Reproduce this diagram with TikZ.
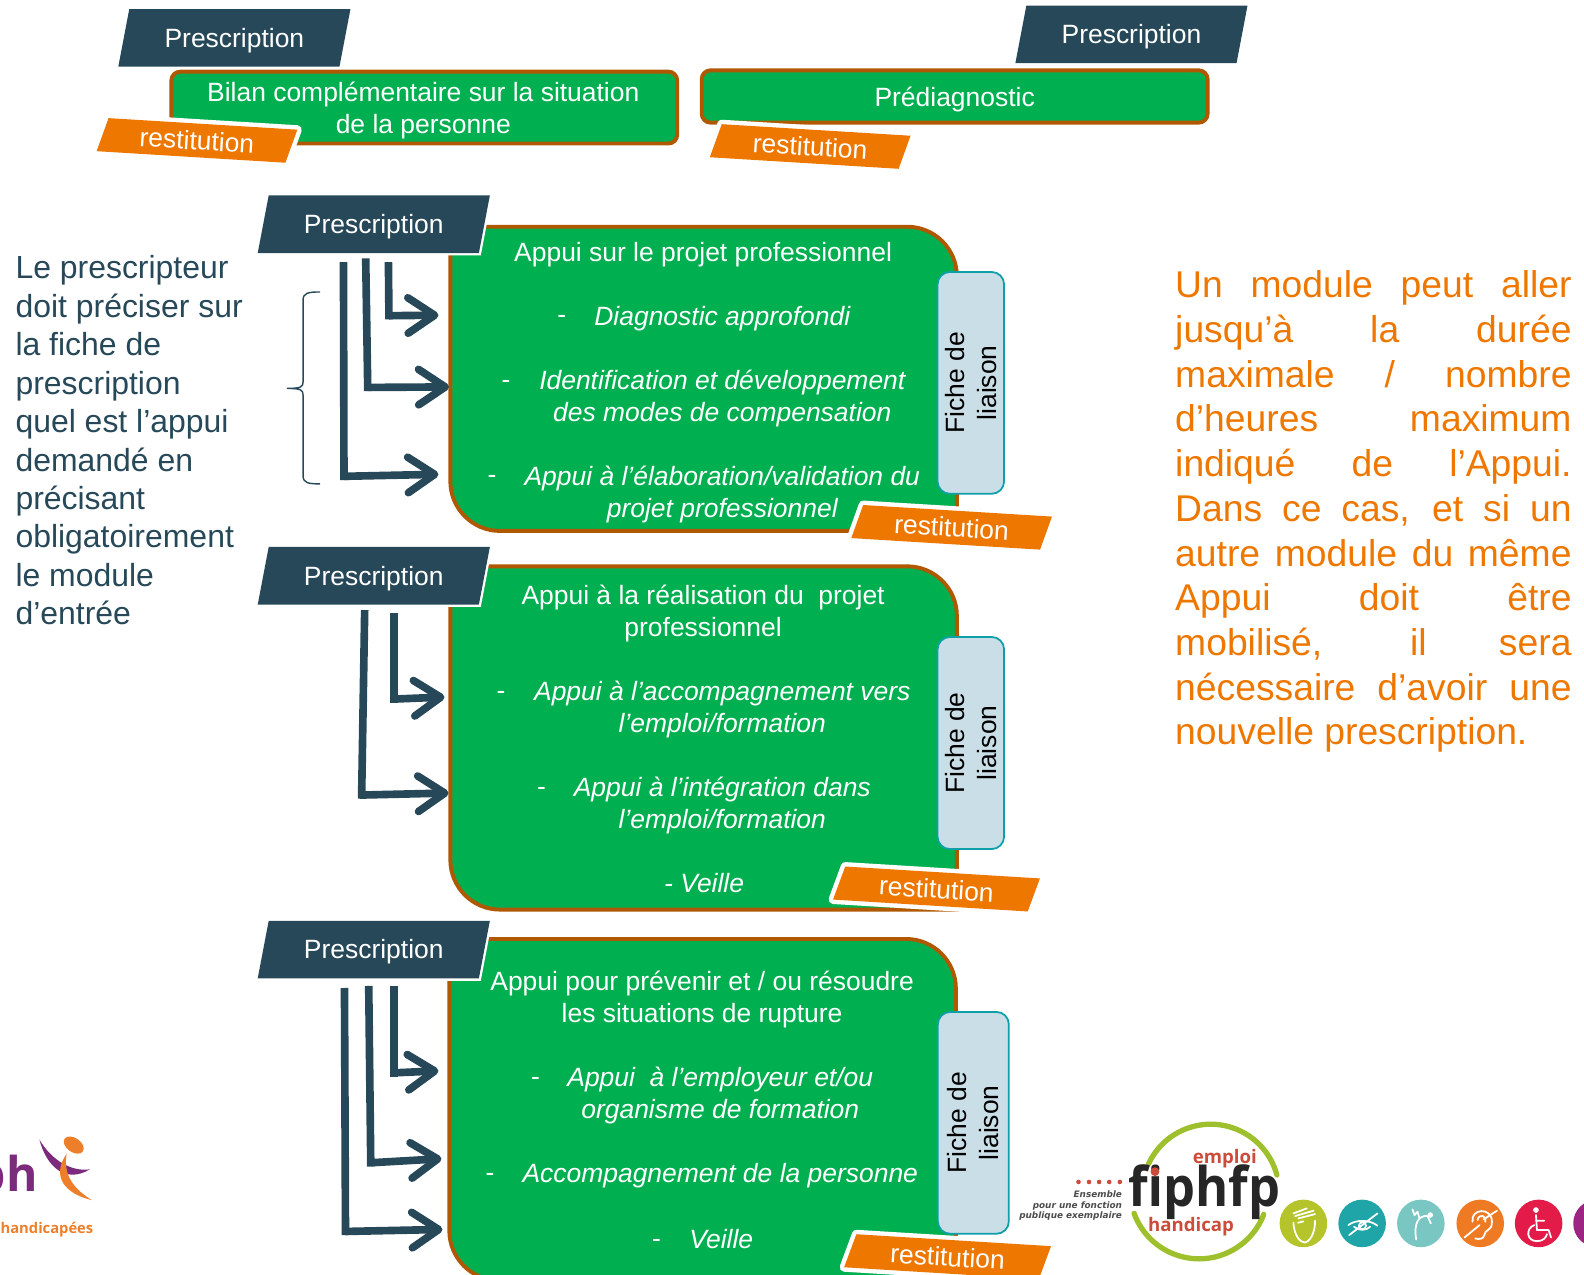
\documentclass[tikz,border=0pt]{standalone}
\usepackage{fontspec}
\setmainfont{Liberation Sans}
\newfontfamily\logofont{Open Sans}
\newfontfamily\slogfont{DejaVu Sans}
\usetikzlibrary{arrows.meta,shapes.geometric}

\definecolor{appuigreen}{HTML}{00B050}
\definecolor{appuibrown}{HTML}{AF5800}
\definecolor{presblue}{HTML}{264858}
\definecolor{restorange}{HTML}{EE7700}
\definecolor{ficheblue}{HTML}{C9DEE7}
\definecolor{ficheline}{HTML}{0E9FA8}
\definecolor{logopurple}{HTML}{7B2A7E}
\definecolor{logoorange}{HTML}{EE7F2A}
\definecolor{logogreen}{HTML}{9EC02C}
\definecolor{logored}{HTML}{CC4C3C}
\definecolor{iconolive}{HTML}{B5C42B}
\definecolor{iconteal}{HTML}{1FA5A8}
\definecolor{iconlight}{HTML}{79C6C3}
\definecolor{iconorange}{HTML}{EE7B24}
\definecolor{iconred}{HTML}{E31B48}
\definecolor{iconpurple}{HTML}{9C2583}

\tikzset{
  prestag/.style={shape=trapezium, trapezium left angle=76, trapezium right angle=104, trapezium stretches=true,
    minimum width=131pt, minimum height=32.5pt, inner sep=0pt, fill=presblue, text=white,
    text height=13.5pt, text depth=3pt,
    preaction={draw=white, line width=2.6pt}, font=\fontsize{14.9}{18}\selectfont},
  resttag/.style={shape=trapezium, trapezium left angle=72, trapezium right angle=108, trapezium stretches=true,
    minimum width=112.5pt, minimum height=19pt, inner sep=0pt, fill=restorange, text=white, rotate=-3.5,
    preaction={draw=white, line width=5pt, line join=round}, font=\fontsize{14.9}{18}\selectfont},
  bandbox/.style={shape=rectangle, draw=appuibrown, fill=appuigreen, line width=2.2pt, rounded corners=5pt,
    minimum width=285pt, inner sep=0pt},
  appuibox/.style={shape=rectangle, minimum width=285pt, inner sep=0pt},
  appuipath/.style={draw=appuibrown, fill=appuigreen, line width=2.2pt},
  fichebox/.style={shape=rectangle, draw=ficheline, fill=ficheblue, line width=1pt, rounded corners=7pt, inner sep=0pt},
  fichetxt/.style={rotate=90, align=center, text=black, font=\fontsize{14.9}{18}\selectfont},
  titletxt/.style={text=white, align=center, yshift=-1.2pt, font=\fontsize{14.9}{18}\selectfont},
  itemtxt/.style={text=white, align=center, yshift=-1.2pt, font=\fontsize{14.9}{18}\selectfont\itshape},
  flowbar/.style={draw=presblue, line width=4.3pt, shorten >=-2.1pt},
  flowarrow/.style={draw=presblue, line width=4.3pt, -{Straight Barb[length=15pt, width=20pt, line width=4.3pt, round]}},
  icon/.style={draw=white, line width=1pt, line cap=round, line join=round}
}

\newcommand{\appuishape}[1]{%
  \path[appuipath] (#1.north west) -- ([xshift=-28pt]#1.north east) arc[start angle=90, end angle=0, radius=28pt]
    -- (#1.south east) -- ([xshift=28pt]#1.south west) arc[start angle=270, end angle=180, radius=28pt] -- cycle;}
\newcommand{\jline}[1]{\makebox[223.3pt][s]{#1}}

\begin{document}
\begin{tikzpicture}[x=0.02cm, y=-0.02cm]
  \clip (0, 0) rectangle (1568, 1262);

  \node[bandbox, minimum height=40.5pt] (bilan) at (420, 106.5) {};
  \node[bandbox, minimum height=29.5pt] (prediag) at (945, 95.5) {};
  \node[appuibox, minimum height=171pt] (projet) at (696.5, 375) {};
  \node[appuibox, minimum height=193pt] (realis) at (696.5, 730.5) {};
  \node[appuibox, minimum height=192pt] (rupture) at (695.5, 1098.5) {};
  \appuishape{projet}
  \appuishape{realis}
  \appuishape{rupture}

  \node[fichebox, minimum width=37.5pt, minimum height=125pt] (ficheprojet) at (961, 379) {};
  \node[fichebox, minimum width=37.5pt, minimum height=119.5pt] (fichereal) at (961, 735.5) {};
  \node[fichebox, minimum width=40pt, minimum height=125pt] (ficherup) at (963.5, 1111.5) {};
  \node[fichetxt] (txtficheprojet) at (ficheprojet.center) {Fiche de\\liaison};
  \node[fichetxt] (txtfichereal) at (fichereal.center) {Fiche de\\liaison};
  \node[fichetxt] (txtficherup) at (ficherup.center) {Fiche de\\liaison};

  \node[titletxt] (txtbilan) at (419, 107) {Bilan complémentaire sur la situation\\de la personne};
  \node[titletxt] (txtprediag) at (945, 96) {Prédiagnostic};

  \node[titletxt] (txtprojet) at (696, 250) {Appui sur le projet professionnel};
  \node[titletxt] (dashdiag) at (556, 314) {-};
  \node[itemtxt] (diag) at (715, 313) {Diagnostic approfondi};
  \node[titletxt] (dashident) at (501, 378) {-};
  \node[itemtxt] (ident) at (715, 392) {Identification et développement\\des modes de compensation};
  \node[titletxt] (dashelab) at (487, 473) {-};
  \node[itemtxt] (elab) at (715, 487) {Appui à l’élaboration/validation du\\projet professionnel};

  \node[titletxt] (txtrealis) at (696, 605) {Appui à la réalisation du\ \ projet\\professionnel};
  \node[titletxt] (dashaccomp) at (496, 686) {-};
  \node[itemtxt] (accomp) at (715, 700) {Appui à l’accompagnement vers\\l’emploi/formation};
  \node[titletxt] (dashinteg) at (536, 781) {-};
  \node[itemtxt] (integ) at (715, 795) {Appui à l’intégration dans\\l’emploi/formation};
  \node[itemtxt] (veille) at (697, 872) {- Veille};

  \node[titletxt] (txtrupture) at (695, 987) {Appui pour prévenir et / ou résoudre\\les situations de rupture};
  \node[titletxt] (dashemploy) at (530, 1068) {-};
  \node[itemtxt] (employ) at (713, 1082) {Appui\ \ à l’employeur et/ou\\organisme de formation};
  \node[titletxt] (dashperso) at (485, 1163) {-};
  \node[itemtxt] (perso) at (713, 1162) {Accompagnement de la personne};
  \node[titletxt] (dashveille) at (650, 1229) {-};
  \node[itemtxt] (veilleb) at (714, 1224) {Veille};

  \node[prestag] (presbilan) at (232, 37.5) {Prescription};
  \node[prestag] (presdiag) at (1120, 34) {Prescription};
  \node[prestag] (presprojet) at (370, 222) {Prescription};
  \node[prestag] (presreal) at (370, 570) {Prescription};
  \node[prestag] (presrup) at (370, 940) {Prescription};

  \node[resttag] (restbilan) at (195, 139) {restitution};
  \node[resttag] (restdiag) at (802, 145) {restitution};
  \node[resttag] (restprojet) at (942, 522) {restitution};
  \node[resttag, minimum width=116pt] (restreal) at (927, 880) {restitution};
  \node[resttag, minimum width=116pt] (restrup) at (938, 1244) {restitution};

  \coordinate (pa) at (384.5, 259.5); \coordinate (pb) at (385, 312.5); \coordinate (pc) at (434, 312);
  \coordinate (qa) at (362, 255.7); \coordinate (qb) at (364, 383.5); \coordinate (qc) at (444.5, 383);
  \coordinate (ra) at (340, 259.5); \coordinate (rb) at (340.5, 471.5); \coordinate (rc) at (434, 469.5);
  \coordinate (sa) at (390, 607); \coordinate (sb) at (390, 692); \coordinate (sc) at (440, 690);
  \coordinate (ta) at (361, 604); \coordinate (tb) at (358, 787); \coordinate (tc) at (444, 785);
  \coordinate (ua) at (390, 976); \coordinate (ub) at (390, 1062); \coordinate (uc) at (434, 1060);
  \coordinate (va) at (365, 976); \coordinate (vb) at (367, 1151); \coordinate (vc) at (437, 1147);
  \coordinate (wa) at (341, 978); \coordinate (wb) at (342, 1219); \coordinate (wc) at (438, 1217);

  \draw[flowbar] (pa) -- (pb);
  \draw[flowarrow] (pb) -- (pc);
  \draw[flowbar] (qa) -- (qb);
  \draw[flowarrow] (qb) -- (qc);
  \draw[flowbar] (ra) -- (rb);
  \draw[flowarrow] (rb) -- (rc);
  \draw[flowbar] (sa) -- (sb);
  \draw[flowarrow] (sb) -- (sc);
  \draw[flowbar] (ta) -- (tb);
  \draw[flowarrow] (tb) -- (tc);
  \draw[flowbar] (ua) -- (ub);
  \draw[flowarrow] (ub) -- (uc);
  \draw[flowbar] (va) -- (vb);
  \draw[flowarrow] (vb) -- (vc);
  \draw[flowbar] (wa) -- (wb);
  \draw[flowarrow] (wb) -- (wc);

  \draw[presblue, line width=0.8pt] (317, 289) .. controls (305, 289) and (300, 290) .. (300, 297) -- (300, 378)
    .. controls (300, 383) and (298, 384.5) .. (284, 384.5) .. controls (298, 384.5) and (300, 386) .. (300, 391)
    -- (300, 471) .. controls (300, 478) and (305, 479) .. (317, 479);

  \node[anchor=west, inner sep=0pt, align=left, text=presblue, font=\fontsize{18}{21.65}\selectfont] (prescripteur) at (15, 436)
    {Le prescripteur\\doit préciser sur\\la fiche de\\prescription\\quel est l’appui\\demandé en\\précisant\\obligatoirement\\le module\\d’entrée};

  \node[anchor=west, inner sep=0pt, align=left, text=restorange, font=\fontsize{21}{25.2}\selectfont] (module) at (1163, 506.5)
    {\jline{Un module peut aller}\\\jline{jusqu’à la durée}\\\jline{maximale / nombre}\\\jline{d’heures maximum}\\\jline{indiqué de l’Appui.}\\\jline{Dans ce cas, et si un}\\\jline{autre module du même}\\\jline{Appui doit être}\\\jline{mobilisé, il sera}\\\jline{nécessaire d’avoir une}\\nouvelle prescription.};

  \node[anchor=east, inner sep=0pt, text=logopurple, font=\logofont\bfseries\fontsize{27}{27}\selectfont] (logoph) at (37.5, 1167) {ph};
  \node[text=logoorange, font=\logofont\bfseries\fontsize{8.3}{10}\selectfont] (logohandi) at (46.5, 1217) {handicapées};
  \fill[logopurple] (39, 1128) .. controls (46, 1155) and (65, 1172) .. (89, 1157.5) .. controls (72, 1160) and (52, 1150) .. (39, 1128);
  \fill[logoorange, rotate around={-35:(73, 1133.5)}] (73, 1133.5) ellipse [x radius=11, y radius=7];
  \fill[logoorange] (66, 1142) .. controls (50, 1165) and (65, 1182) .. (91, 1188) .. controls (75, 1178) and (62, 1165) .. (66, 1142);

  \draw[logogreen, line width=3pt, line cap=round] (1137, 1152) arc[start angle=155, end angle=15, radius=38.6pt];
  \draw[logogreen, line width=3pt, line cap=round] (1122.6, 1201) arc[start angle=200, end angle=339, radius=39pt];
  \node[text=logored, font=\logofont\bfseries\fontsize{10.5}{12}\selectfont] (logoemploi) at (1212.5, 1147) {emploi};
  \node[text=logored, font=\logofont\bfseries\fontsize{10.5}{12}\selectfont] (logohandicap) at (1179, 1214) {handicap};
  \node[text=black!85, font=\logofont\bfseries\fontsize{28.5}{28}\selectfont, yscale=1.08, transform shape] (logofip) at (1192, 1180) {fiphfp};
  \fill[logored] (1143.3, 1159.8) circle (2.5pt);
  \node[anchor=east, inner sep=0pt, align=right, text=black!70, font=\slogfont\bfseries\itshape\fontsize{5}{6.05}\selectfont] (logoens) at (1111, 1193.5) {Ensemble\\pour une fonction\\publique exemplaire};
  \foreach \dotx in {1067.6, 1078, 1088, 1098, 1108.5}
    \fill[logored] (\dotx, 1170) circle (1.3pt);

  \begin{scope}[shift={(1257.2, 1168.1)}, x=0.0066cm, y=-0.0066cm]
    \fill[iconolive] (100, 130) circle (13.4pt);
    \draw[icon] (70, 128) .. controls (72, 165) and (90, 187) .. (103, 187) .. controls (118, 187) and (135, 160) .. (135, 122);
    \draw[icon] (70, 100) -- (110, 85) (75, 108) -- (130, 92) (85, 115) -- (135, 102) (84, 128) -- (100, 124);

    \fill[iconteal] (276, 130) circle (13.4pt);
    \draw[icon] (235, 135) .. controls (255, 118) and (300, 118) .. (322, 137);
    \draw[icon] (252, 140) .. controls (262, 152) and (290, 152) .. (300, 140);
    \draw[icon] (277, 137) circle (2pt);
    \draw[icon] (237, 165) -- (322, 100);

    \fill[iconlight] (452, 130) circle (13.4pt);
    \draw[icon] (438, 178) .. controls (430, 130) and (445, 105) .. (472, 108) -- (482, 130);
    \fill[white] (480, 105) circle (1.6pt);
    \draw[icon] (427, 88) -- (433, 105) -- (442, 95) -- (447, 112);

    \fill[iconorange] (630, 130) circle (13.4pt);
    \draw[icon] (607, 125) .. controls (600, 85) and (665, 80) .. (665, 125) .. controls (665, 155) and (645, 145) .. (642, 165) .. controls (640, 178) and (625, 178) .. (615, 175);
    \draw[icon] (622, 120) .. controls (625, 100) and (650, 105) .. (645, 125);
    \draw[icon] (583, 172) -- (628, 135) (640, 118) -- (680, 92);

    \fill[iconred] (805, 130) circle (13.4pt);
    \fill[white] (797, 90) circle (1.6pt);
    \draw[icon] (797, 105) -- (800, 150) -- (835, 150) -- (842, 172) (797, 122) -- (822, 122);
    \draw[icon] (792, 135) .. controls (765, 145) and (768, 185) .. (802, 183) .. controls (818, 183) and (828, 172) .. (830, 162);

    \fill[iconpurple] (980, 130) circle (13.4pt);
  \end{scope}
\end{tikzpicture}
\end{document}
